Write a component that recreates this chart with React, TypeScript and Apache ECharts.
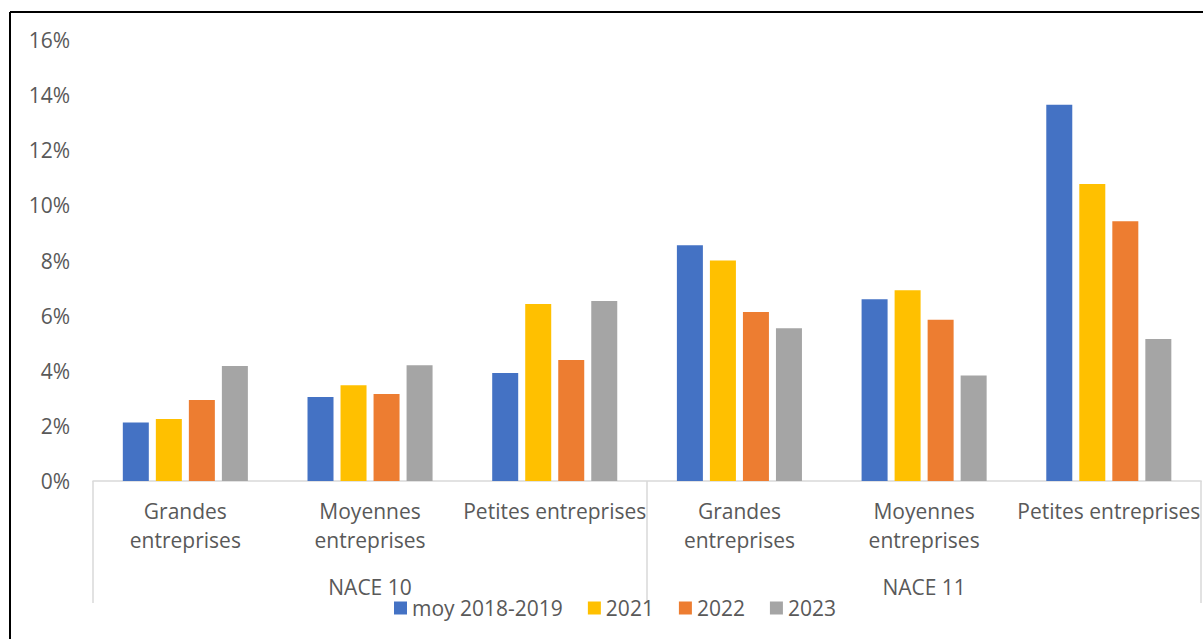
import React, { useEffect, useRef } from "react";
import * as echarts from "echarts";

const categories = [
  "Grandes\nentreprises",
  "Moyennes\nentreprises",
  "Petites entreprises",
  "Grandes\nentreprises",
  "Moyennes\nentreprises",
  "Petites entreprises",
];
const groups = ["NACE 10", "NACE 11"];
const seriesNames = ["moy 2018-2019", "2021", "2022", "2023"];
const moy2018_2019 = [2.12, 3.05, 3.92, 8.55, 6.59, 13.65];
const y2021 = [2.25, 3.47, 6.42, 8.0, 6.92, 10.78];
const y2022 = [2.94, 3.16, 4.39, 6.13, 5.85, 9.42];
const y2023 = [4.17, 4.2, 6.53, 5.54, 3.83, 5.15];
const yTicks = { min: 0, max: 16, interval: 2 };
const colors = ["#4472C4", "#FFC000", "#ED7D31", "#A5A5A5"];

const FONT = "Open Sans";
const TXT = "#595959";
const FS = 21;

export default function App() {
  const ref = useRef<HTMLDivElement>(null);
  useEffect(() => {
    if (!ref.current) return;
    const chart = echarts.init(ref.current, null, { renderer: "svg" });
    const values = [moy2018_2019, y2021, y2022, y2023];
    chart.setOption({
      animation: false,
      backgroundColor: "#ffffff",
      textStyle: { fontFamily: FONT },
      grid: { left: 93, right: -2, top: 40, bottom: 158, containLabel: false },
      legend: {
        data: seriesNames,
        left: 394,
        top: 597,
        padding: 0,
        itemWidth: 13,
        itemHeight: 13,
        itemGap: 25,
        icon: "rect",
        textStyle: { color: TXT, fontSize: FS, fontFamily: FONT, lineHeight: 22 },
      },
      xAxis: [
        {
          type: "category",
          data: categories,
          position: "bottom",
          axisLine: { show: true, lineStyle: { color: "#d9d9d9", width: 1.5 } },
          axisTick: { show: false },
          axisLabel: {
            interval: 0,
            color: TXT,
            fontSize: FS,
            fontFamily: FONT,
            lineHeight: 29,
            margin: 15,
          },
        },
        {
          type: "category",
          data: groups,
          position: "bottom",
          axisLine: { show: false },
          axisTick: { show: true, length: 122, lineStyle: { color: "#d9d9d9", width: 1.5 } },
          axisLabel: {
            interval: 0,
            color: TXT,
            fontSize: FS,
            fontFamily: FONT,
            lineHeight: 24,
            margin: 94,
          },
        },
      ],
      yAxis: {
        type: "value",
        min: yTicks.min,
        max: yTicks.max,
        interval: yTicks.interval,
        axisLine: { show: false },
        axisTick: { show: false },
        splitLine: { show: false },
        axisLabel: {
          color: TXT,
          fontSize: FS,
          fontFamily: FONT,
          margin: 23,
          formatter: (v: number) => `${v}%`,
        },
      },
      series: seriesNames.map((name, i) => ({
        name,
        type: "bar",
        xAxisIndex: 0,
        data: values[i],
        barWidth: 26,
        barGap: "27%",
        itemStyle: { color: colors[i] },
      })),
      graphic: [
        {
          type: "line",
          shape: { x1: 10, y1: 12, x2: 1203, y2: 12 },
          style: { stroke: "#000", lineWidth: 2 },
        },
        {
          type: "line",
          shape: { x1: 10, y1: 12, x2: 10, y2: 639 },
          style: { stroke: "#000", lineWidth: 2 },
        },
      ],
    });
    return () => chart.dispose();
  }, []);
  return (
    <div
      ref={ref}
      style={{ position: "absolute", left: 0, top: 0, width: 1203, height: 639 }}
    />
  );
}
